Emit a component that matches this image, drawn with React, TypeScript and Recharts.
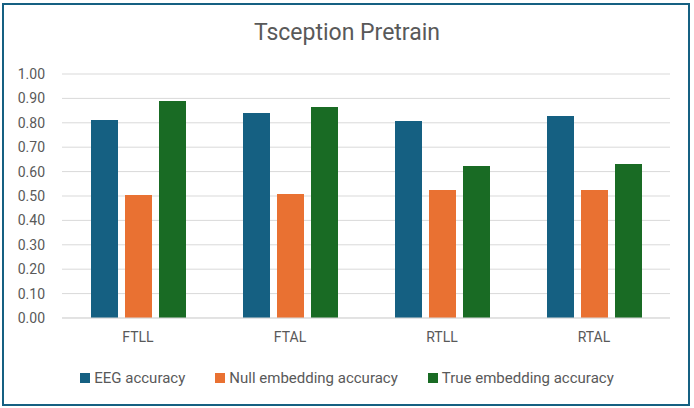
import React from "react"
import { Bar, BarChart, CartesianGrid, Legend, XAxis, YAxis } from "recharts"

const categories = ["FTLL", "FTAL", "RTLL", "RTAL"]
const eegAccuracy = [0.811, 0.84, 0.807, 0.828]
const nullEmbeddingAccuracy = [0.504, 0.508, 0.525, 0.525]
const trueEmbeddingAccuracy = [0.889, 0.865, 0.623, 0.631]
const yTicks = [0, 0.1, 0.2, 0.3, 0.4, 0.5, 0.6, 0.7, 0.8, 0.9, 1.0]

const series = [
  { key: "eeg", name: "EEG accuracy", color: "#156082" },
  { key: "nullEmb", name: "Null embedding accuracy", color: "#E97132" },
  { key: "trueEmb", name: "True embedding accuracy", color: "#196B24" },
]

const data = categories.map((name, i) => ({
  name,
  eeg: eegAccuracy[i],
  nullEmb: nullEmbeddingAccuracy[i],
  trueEmb: trueEmbeddingAccuracy[i],
}))

const textColor = "#595959"
const font = "Roboto, 'Liberation Sans', sans-serif"

const renderLegend = (props: any) => {
  const { payload } = props
  return (
    <div style={{ display: "flex", justifyContent: "center", height: 20, fontFamily: font, fontSize: 15, color: textColor }}>
      {payload.map((entry: any, i: number) => (
        <div key={`leg-${i}`} style={{ display: "flex", alignItems: "center", marginLeft: i === 0 ? 0 : 30 }}>
          <span style={{ display: "inline-block", width: 10, height: 10, background: entry.color, marginRight: 4 }} />
          <span>{entry.value}</span>
        </div>
      ))}
    </div>
  )
}

export default function App() {
  return (
    <div style={{ position: "absolute", left: 0, top: 0, width: 694, height: 408, background: "#fff" }}>
      <div
        style={{
          position: "absolute",
          left: 2,
          top: 3,
          width: 684,
          height: 399,
          border: "2px solid #156082",
          boxSizing: "content-box",
        }}
      />
      <div
        style={{
          position: "absolute",
          left: 0,
          top: 19,
          width: 694,
          textAlign: "center",
          fontFamily: font,
          fontSize: 23,
          color: textColor,
        }}
      >
        Tsception Pretrain
      </div>
      <BarChart
        width={694}
        height={408}
        data={data}
        margin={{ top: 74, right: 24, bottom: 40, left: 0 }}
        barCategoryGap={29}
        barGap={7}
      >
        <CartesianGrid vertical={false} stroke="#d9d9d9" />
        <XAxis
          dataKey="name"
          height={30}
          axisLine={{ stroke: "#d9d9d9" }}
          tickLine={false}
          tickSize={0}
          tickMargin={14}
          tick={{ fill: textColor, fontSize: 14, fontFamily: font }}
        />
        <YAxis
          width={62}
          domain={[0, 1]}
          ticks={yTicks}
          interval={0}
          tickFormatter={(v: number) => v.toFixed(2)}
          axisLine={false}
          tickLine={false}
          tickSize={0}
          tickMargin={17}
          tick={{ fill: textColor, fontSize: 14, fontFamily: font }}
        />
        <Legend
          content={renderLegend}
          verticalAlign="bottom"
          height={20}
          wrapperStyle={{ position: "absolute", top: 368, left: 0, width: 694, height: 20 }}
        />
        {series.map((s) => (
          <Bar key={s.key} dataKey={s.key} name={s.name} fill={s.color} isAnimationActive={false} />
        ))}
      </BarChart>
    </div>
  )
}
